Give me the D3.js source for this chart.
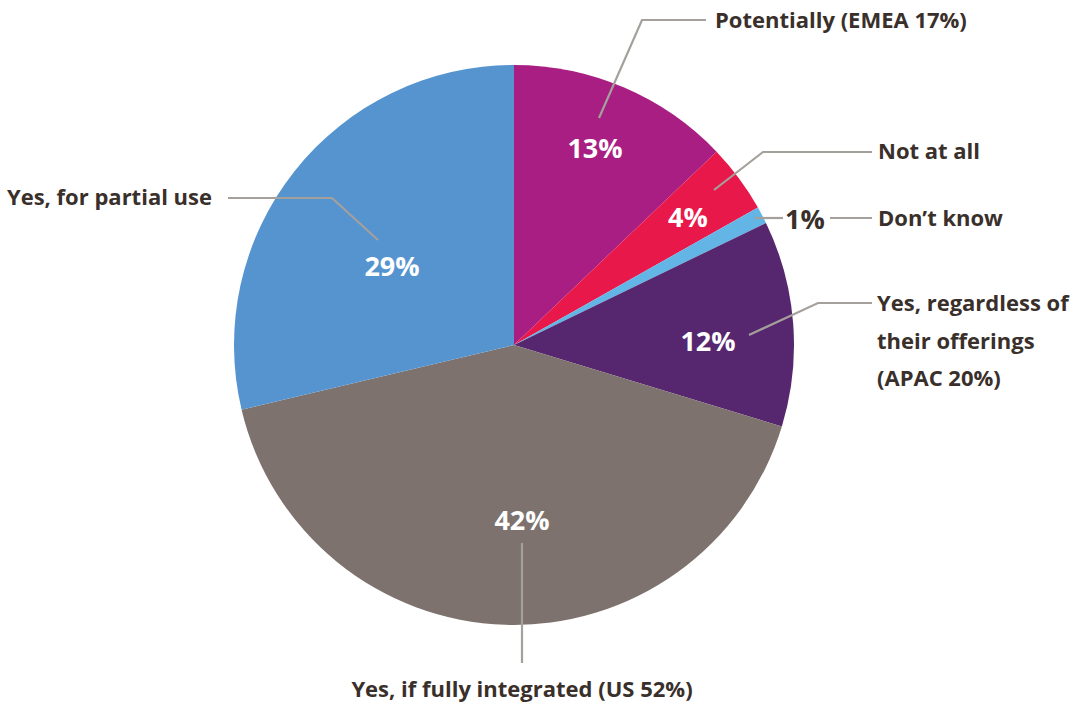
<!DOCTYPE html>
<html><head><meta charset="utf-8">
<script src="https://cdn.jsdelivr.net/npm/d3@7"></script>
<style>html,body{margin:0;padding:0;background:#fff;}svg{display:block;}</style>
</head><body><svg id="c" width="1073" height="706"></svg>
<script>
const categories = ["Potentially (EMEA 17%)", "Not at all", "Don\u2019t know", "Yes, regardless of their offerings (APAC 20%)", "Yes, if fully integrated (US 52%)", "Yes, for partial use"];
const values = [13, 4, 1, 12, 42, 29];
const colors = ["#A91E82", "#E8194A", "#62B5E5", "#56276F", "#7D726D", "#5694CF"];
const labelLines = [["Potentially (EMEA 17%)"], ["Not at all"], ["Don\u2019t know"], ["Yes, regardless of", "their offerings", "(APAC 20%)"], ["Yes, if fully integrated (US 52%)"], ["Yes, for partial use"]];

const svg = d3.select("#c");
const cx = 514, cy = 345, R = 280;
const g = svg.append("g").attr("transform", `translate(${cx},${cy})`);
const pie = d3.pie().sort(null).value(d => d)(values);
const arc = d3.arc().innerRadius(0).outerRadius(R);
g.selectAll("path.slice").data(pie).join("path").attr("class","slice")
  .attr("d", arc).attr("fill", (d,i) => colors[i]);

const layout = [
  {leader: [[599,118],[642,20],[706,20]], text: [715, 28], anchor: "start"},
  {leader: [[714,190],[763,152],[872,152]], text: [878, 159], anchor: "start"},
  {leader: null, text: [878, 226], anchor: "start"},
  {leader: [[749,335],[818,303],[872,303]], text: [877, 311], anchor: "start"},
  {leader: [[522,543],[522,663]], text: [522, 697], anchor: "middle"},
  {leader: [[378,240],[332,198],[228,198]], text: [212, 205], anchor: "end"}
];
const pctPos = [[595,148],[688,217],[805,219],[708,341],[522,520],[392,266]];

const line = d3.line();
const lineColor = "#A4A09C";
layout.forEach((L, i) => {
  if (L.leader) svg.append("path").attr("d", line(L.leader)).attr("fill","none").attr("stroke", lineColor).attr("stroke-width", 2.2);
});
svg.append("path").attr("d", line([[755,218],[783,218]])).attr("stroke", lineColor).attr("stroke-width", 2.2);
svg.append("path").attr("d", line([[830,218],[872,218]])).attr("stroke", lineColor).attr("stroke-width", 2.2);

pie.forEach((d, i) => {
  const [x, y] = pctPos[i];
  svg.append("text").attr("x", x).attr("y", y).attr("text-anchor","middle").attr("dy","0.36em")
    .attr("font-family","'Open Sans', sans-serif").attr("font-weight", 700).attr("font-size", 27)
    .attr("fill", i === 2 ? "#3A302B" : "#fff").text(values[i] + "%");
});

layout.forEach((L, i) => {
  const t = svg.append("text").attr("x", L.text[0]).attr("y", L.text[1]).attr("text-anchor", L.anchor)
    .attr("font-family","'Open Sans', sans-serif").attr("font-weight", 700).attr("font-size", 22)
    .attr("fill", "#3A302B");
  labelLines[i].forEach((s, j) => t.append("tspan").attr("x", L.text[0]).attr("dy", j ? 37.5 : 0).text(s));
});
</script></body></html>
